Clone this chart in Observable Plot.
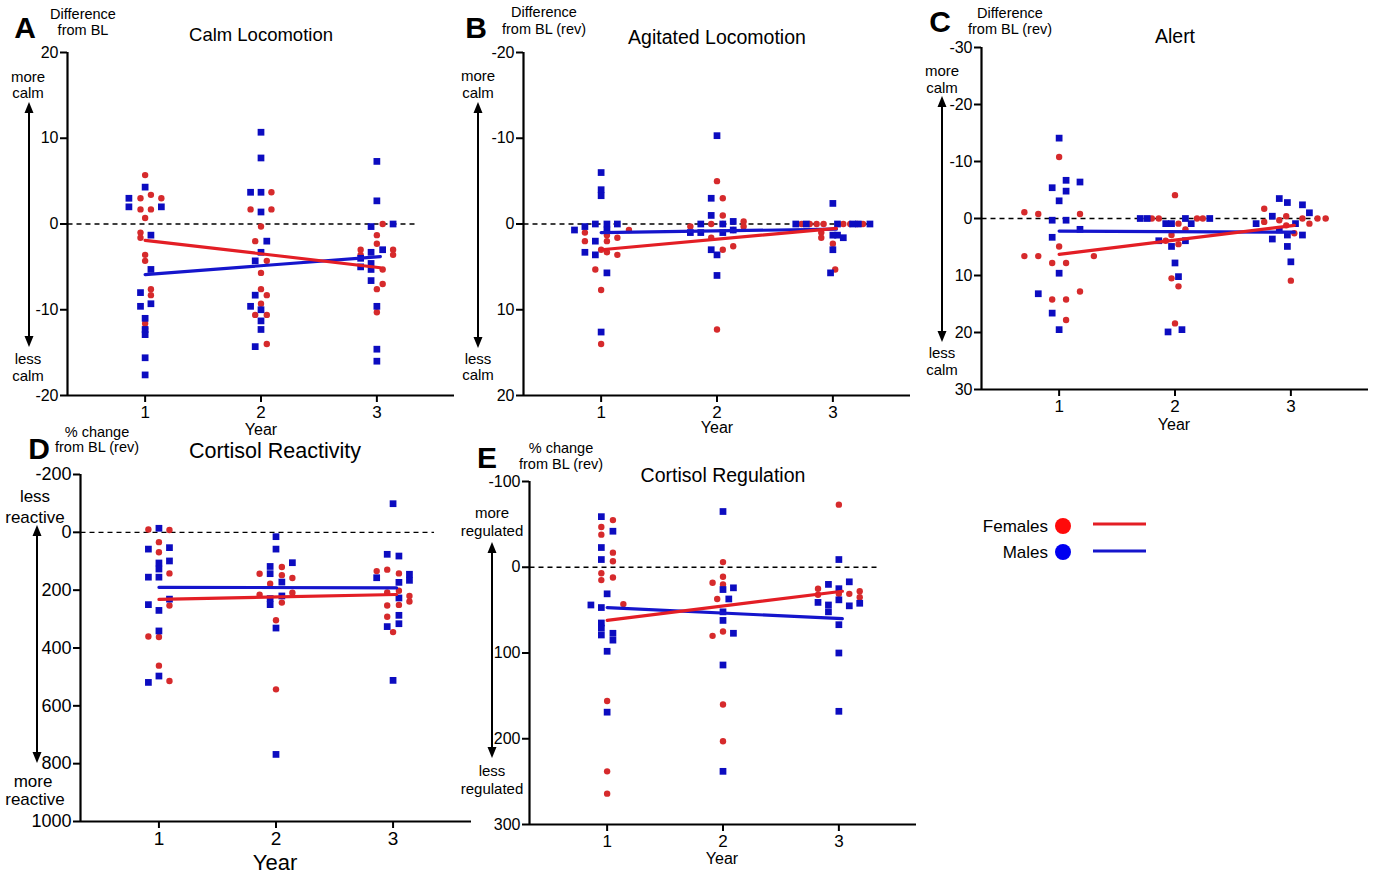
<!DOCTYPE html>
<html><head><meta charset="utf-8">
<script src="https://cdn.jsdelivr.net/npm/d3@7"></script>
<script src="https://cdn.jsdelivr.net/npm/@observablehq/plot@0.6"></script>
<style>
body{margin:0;background:#fff;}
#root{position:relative;width:1376px;height:880px;overflow:hidden;font-family:"Liberation Sans",Arial,Helvetica,sans-serif;color:#000;background:#fff;}
.t{position:absolute;transform:translate(-50%,-50%);white-space:nowrap;line-height:1;}
.tr{position:absolute;transform:translate(-100%,-50%);white-space:nowrap;line-height:1;}
.plot{position:absolute;}
</style></head><body><div id="root"></div>
<script>
// ---------- data ----------
const YEARS = [1, 2, 3];
const SEXES = ["Females", "Males"];

// A: Calm Locomotion (difference from BL)
const calmFemales = [[1.0,5.7],[0.96,3.0],[1.05,3.4],[1.14,3.0],[0.96,1.7],[1.05,1.7],[1.0,0.7],[0.96,-1.0],[0.96,-1.6],[1.0,-3.6],[1.0,-4.3],[1.05,-7.6],[1.05,-8.3],[1.0,-11.6],[1.0,-12.2],
 [2.09,3.7],[1.91,1.7],[2.09,1.7],[2.0,-0.3],[1.95,-2.0],[2.05,-4.3],[2.0,-5.7],[2.0,-7.6],[2.05,-8.3],[2.0,-9.3],[1.95,-10.6],[2.05,-10.6],[2.05,-14.0],
 [3.05,0],[3.0,-1.3],[3.0,-2.3],[2.86,-3.0],[2.86,-3.6],[3.14,-3.0],[3.14,-3.6],[3.05,-5.3],[3.05,-7.0],[3.0,-7.6],[3.0,-10.3]];
const calmMales = [[0.86,3.0],[0.86,2.0],[1.0,4.3],[1.14,2.0],[1.05,-1.3],[1.05,-5.3],[0.96,-8.0],[1.05,-9.3],[0.96,-9.6],[1.0,-11.0],[1.0,-12.3],[1.0,-12.9],[1.0,-15.6],[1.0,-17.6],
 [2.0,10.7],[2.0,7.7],[1.91,3.7],[2.0,3.7],[2.0,1.4],[2.05,-2.0],[2.0,-3.3],[1.95,-4.3],[1.95,-8.3],[1.91,-9.6],[2.0,-10.0],[2.0,-11.3],[2.0,-12.3],[1.95,-14.3],
 [3.0,7.3],[3.0,2.7],[2.95,-0.3],[3.14,0],[3.05,-3.0],[2.95,-3.3],[2.86,-4.0],[2.86,-5.0],[2.95,-4.6],[2.95,-5.3],[2.95,-6.6],[3.0,-9.6],[3.0,-14.6],[3.0,-16.0]];
const calmFitF = [-1.9, -5.1];
const calmFitM = [-5.9, -3.8];

// B: Agitated Locomotion (difference from BL, reversed)
const agitFemales = [[0.86,1.0],[0.86,2.0],[0.95,5.3],[1.0,7.7],[1.0,14.0],[1.05,1.3],[1.05,2.0],[1.05,3.3],[1.14,1.6],[1.14,3.6],[1.24,0.7],[1.0,3.0],
 [1.77,0.3],[1.95,0],[1.95,1.6],[2.0,-5.0],[2.05,-3.0],[2.05,-1.0],[2.05,0],[2.05,3.0],[2.14,0.7],[2.14,2.6],[2.23,-0.3],[2.23,0.3],[2.0,12.3],
 [2.73,0],[2.8,0],[2.86,0],[2.92,0],[2.9,1.0],[2.9,1.6],[3.0,2.3],[3.02,5.3],[3.09,0],[3.15,0],[3.21,0],[3.26,0]];
const agitMales = [[0.77,0.7],[0.86,0.3],[0.86,3.3],[0.95,0],[0.95,2.0],[0.95,3.6],[1.0,-6.0],[1.0,-4.0],[1.0,-3.3],[1.0,12.6],[1.05,0],[1.05,0.7],[1.05,5.7],[1.14,0],
 [1.77,1.0],[1.86,0],[1.86,1.0],[1.95,-3.0],[1.95,-1.0],[1.95,3.0],[2.0,-10.3],[2.0,3.6],[2.0,6.0],[2.05,0],[2.05,1.0],[2.14,-0.3],[2.14,0.7],
 [2.68,0],[2.77,0],[3.0,-2.4],[3.0,3.0],[2.98,5.7],[3.04,0],[3.04,1.3],[3.0,1.3],[3.09,1.6],[3.17,0],[3.22,0],[3.32,0]];
const agitFitF = [3.0, 0.5];
const agitFitM = [1.0, 0.6];

// C: Alert (difference from BL, reversed)
const alertFemales = [[0.7,-1.1],[0.82,-0.8],[0.7,6.6],[0.82,6.6],[0.94,7.8],[0.94,14.2],[1.0,-10.8],[1.0,4.9],[1.06,7.8],[1.06,14.2],[1.06,17.8],[1.18,-0.8],[1.18,12.8],[1.3,6.6],
 [1.8,0],[1.86,0],[1.92,3.9],[1.97,2.9],[2.0,-4.1],[2.03,0.9],[2.03,4.5],[2.09,1.9],[1.97,10.5],[2.03,11.9],[2.0,18.4],[2.19,0],[2.24,0],
 [2.77,-1.7],[2.77,0.6],[2.9,0.3],[2.96,-0.4],[2.96,1.2],[3.03,2.6],[3.0,10.9],[3.1,0],[3.16,0.9],[3.23,0],[3.3,0]];
const alertMales = [[1.0,-14.1],[0.94,-5.4],[1.0,-3.1],[1.06,-6.7],[1.06,-4.8],[1.18,-6.4],[0.94,0.3],[1.06,0.3],[1.18,1.9],[0.94,3.3],[1.0,9.6],[0.82,13.2],[0.94,16.6],[1.0,19.5],
 [1.7,0],[1.76,0],[1.92,0.9],[1.97,0.9],[1.86,3.9],[1.97,4.9],[2.0,7.8],[2.03,10.2],[2.09,0],[2.14,0.9],[2.09,3.9],[1.94,19.9],[2.06,19.5],[2.3,0],
 [2.7,0.9],[2.84,-0.4],[2.84,3.6],[2.9,-3.5],[2.9,2.0],[2.97,-2.8],[2.97,2.9],[2.97,4.9],[3.0,7.6],[3.04,0.9],[3.1,-2.4],[3.1,2.9],[3.16,-1.0]];
const alertFitF = [6.3, 1.2];
const alertFitM = [2.2, 2.4];

// D: Cortisol Reactivity (% change from BL, reversed)
const reactFemales = [[0.91,-10],[1.0,34],[1.0,69],[1.09,-8],[1.09,142],[1.09,253],[0.91,360],[1.0,362],[1.0,461],[1.09,514],
 [1.86,143],[1.86,216],[1.95,178],[2.05,120],[2.05,148],[2.05,243],[2.14,158],[2.14,209],[2.0,304],[2.0,543],
 [2.86,134],[2.95,129],[3.05,142],[2.95,208],[3.05,202],[3.14,220],[3.14,239],[2.95,253],[3.05,251],[2.95,292],[3.0,345]];
const reactMales = [[1.0,-14],[0.91,58],[0.91,155],[0.91,250],[1.0,106],[1.0,127],[1.0,155],[1.0,270],[1.0,341],[1.0,497],[0.91,519],[1.09,53],[1.09,99],[1.09,231],
 [2.0,15],[2.0,58],[1.95,118],[1.95,143],[2.05,172],[2.14,105],[1.95,229],[1.95,250],[2.05,220],[2.0,331],[2.0,768],
 [3.0,-99],[2.95,76],[3.05,82],[2.86,157],[3.05,173],[3.14,145],[3.14,166],[3.05,227],[3.05,287],[3.05,316],[2.95,326],[3.0,512]];
const reactFitF = [232, 215];
const reactFitM = [190, 192];

// E: Cortisol Regulation (% change from BL, reversed)
const regFemales = [[0.95,-47],[0.95,-38],[1.05,-55],[1.05,-17],[1.05,-7],[0.95,7],[0.95,15],[1.05,12],[1.14,43],[1.0,156],[1.0,238],[1.0,264],
 [2.0,-6],[2.0,11],[2.0,20],[1.91,18],[1.95,37],[1.91,80],[2.0,75],[2.0,160],[2.0,203],
 [3.0,-73],[2.82,25],[2.82,32],[3.0,31],[3.09,31],[3.18,28],[3.18,35]];
const regMales = [[0.95,-59],[0.95,-23],[0.95,-9],[1.05,-42],[1.0,31],[0.86,44],[0.95,47],[0.95,65],[0.95,71],[0.95,79],[1.05,77],[1.05,85],[1.0,98],[1.0,169],
 [2.0,-65],[2.0,26],[2.09,24],[2.05,37],[2.0,52],[2.0,62],[2.09,77],[2.0,114],[2.0,238],
 [3.0,-9],[2.91,20],[3.09,17],[3.0,25],[3.0,38],[2.82,41],[2.91,44],[3.09,45],[3.18,42],[2.91,52],[3.0,67],[3.0,100],[3.0,168]];
const regFitF = [62, 28];
const regFitM = [47, 60];

const FIT_X = [1, 3.03];
const ticksA = [-20, -10, 0, 10, 20];
const ticksC = [-30, -20, -10, 0, 10, 20, 30];
const ticksD = [-200, 0, 200, 400, 600, 800, 1000];
const ticksE = [-100, 0, 100, 200, 300];

// ---------- styles ----------
const FONT = '"Liberation Sans", Arial, Helvetica, sans-serif';
const RED_DOT = "#d62a2c", BLUE_DOT = "#0c0cc0";
const RED_LINE = "#e31e25", BLUE_LINE = "#1515cc";
const X_DOMAIN = [0.33, 3.67];
const root = document.getElementById("root");

function panel(p) {
  const ml = 60, mr = 12, mt = 14, mb = 44;
  const w = (p.x1 - p.x0) + ml + mr, h = (p.y1 - p.y0) + mt + mb;
  const yBottom = p.reverse ? p.yDomain[1] : p.yDomain[0];
  const toObj = arr => arr.map(([x, y]) => ({x, y}));
  const fitData = (vals) => FIT_X.map((x, i) => ({x, y: vals[i]}));
  const svg = Plot.plot({
    width: w, height: h, marginLeft: ml, marginRight: mr, marginTop: mt, marginBottom: mb,
    style: {fontFamily: FONT, background: "transparent", color: "#000", overflow: "visible"},
    x: {domain: X_DOMAIN, label: null},
    y: {domain: p.yDomain, reverse: p.reverse, label: null},
    marks: [
      Plot.axisX({ticks: YEARS, tickSize: 7, tickPadding: 3, strokeWidth: 2, fontSize: p.xfs, label: null, tickFormat: d => String(d)}),
      Plot.axisY({ticks: p.yTicks, tickSize: 7, tickPadding: 2, strokeWidth: 2, fontSize: p.yfs, label: null, tickFormat: d => String(d)}),
      Plot.ruleX([X_DOMAIN[0]], {strokeWidth: 2.2}),
      Plot.ruleY([yBottom], {strokeWidth: 2.2}),
      Plot.link([{a: X_DOMAIN[0], b: 3.35, y: 0}], {x1: "a", x2: "b", y1: "y", y2: "y", stroke: "#000", strokeWidth: 1.3, strokeDasharray: "5,4"}),
      Plot.dot(toObj(p.F), {x: "x", y: "y", symbol: "circle", r: 3.2, fill: RED_DOT}),
      Plot.dot(toObj(p.M), {x: "x", y: "y", symbol: "square", r: 3.8, fill: BLUE_DOT}),
      Plot.line(fitData(p.fitM), {x: "x", y: "y", stroke: BLUE_LINE, strokeWidth: 3.2}),
      Plot.line(fitData(p.fitF), {x: "x", y: "y", stroke: RED_LINE, strokeWidth: 3.2})
    ]
  });
  svg.classList.add("plot");
  svg.style.left = (p.x0 - ml) + "px";
  svg.style.top = (p.y0 - mt) + "px";
  root.appendChild(svg);
}

panel({F: calmFemales, M: calmMales, fitF: calmFitF, fitM: calmFitM, yDomain: [-20, 20], reverse: false, yTicks: ticksA,
  x0: 67, x1: 454, y0: 52, y1: 395, xfs: 17, yfs: 16});
panel({F: agitFemales, M: agitMales, fitF: agitFitF, fitM: agitFitM, yDomain: [-20, 20], reverse: true, yTicks: ticksA,
  x0: 523, x1: 910, y0: 52, y1: 395, xfs: 17, yfs: 16});
panel({F: alertFemales, M: alertMales, fitF: alertFitF, fitM: alertFitM, yDomain: [-30, 30], reverse: true, yTicks: ticksC,
  x0: 981, x1: 1368, y0: 47, y1: 389, xfs: 17, yfs: 16});
panel({F: reactFemales, M: reactMales, fitF: reactFitF, fitM: reactFitM, yDomain: [-200, 1000], reverse: true, yTicks: ticksD,
  x0: 80, x1: 471, y0: 474, y1: 821, xfs: 19, yfs: 18});
panel({F: regFemales, M: regMales, fitF: regFitF, fitM: regFitM, yDomain: [-100, 300], reverse: true, yTicks: ticksE,
  x0: 529, x1: 916, y0: 481, y1: 824, xfs: 17, yfs: 16});

// ---------- annotations ----------
function txt(s, x, y, size, opts = {}) {
  const d = document.createElement("div");
  d.className = opts.right ? "tr" : "t";
  d.textContent = s;
  d.style.left = x + "px"; d.style.top = y + "px";
  d.style.fontSize = size + "px";
  if (opts.bold) d.style.fontWeight = "bold";
  root.appendChild(d);
}
// panel letters
txt("A", 25, 28, 30, {bold: true});
txt("B", 476, 28, 30, {bold: true});
txt("C", 940, 22, 30, {bold: true});
txt("D", 39, 449, 30, {bold: true});
txt("E", 487, 458, 30, {bold: true});
// y-axis captions
txt("Difference", 83, 14, 14.5); txt("from BL", 83, 30, 14.5);
txt("Difference", 544, 12, 14.5); txt("from BL (rev)", 544, 29, 14.5);
txt("Difference", 1010, 13, 14.5); txt("from BL (rev)", 1010, 29, 14.5);
txt("% change", 97, 432, 14.5); txt("from BL (rev)", 97, 447, 14.5);
txt("% change", 561, 448, 14.5); txt("from BL (rev)", 561, 464, 14.5);
// titles
txt("Calm Locomotion", 261, 35, 18.5);
txt("Agitated Locomotion", 717, 38, 19.5);
txt("Alert", 1175, 37, 19.5);
txt("Cortisol Reactivity", 275, 452, 21.5);
txt("Cortisol Regulation", 723, 476, 19.5);
// x labels
txt("Year", 261, 430, 16);
txt("Year", 717, 428, 16);
txt("Year", 1174, 425, 16);
txt("Year", 275, 863, 22);
txt("Year", 722, 859, 16);
// direction labels
txt("more", 28, 76, 15); txt("calm", 28, 92, 15); txt("less", 28, 358, 15); txt("calm", 28, 375, 15);
txt("more", 478, 75, 15); txt("calm", 478, 92, 15); txt("less", 478, 358, 15); txt("calm", 478, 374, 15);
txt("more", 942, 70, 15); txt("calm", 942, 87, 15); txt("less", 942, 352, 15); txt("calm", 942, 369, 15);
txt("less", 35, 496, 17); txt("reactive", 35, 517, 17); txt("more", 33, 781, 17); txt("reactive", 35, 799, 17);
txt("more", 492, 512, 15); txt("regulated", 492, 530, 15); txt("less", 492, 770, 15); txt("regulated", 492, 788, 15);

// arrows + legend glyphs
const NS = "http://www.w3.org/2000/svg";
const ov = document.createElementNS(NS, "svg");
ov.setAttribute("width", 1376); ov.setAttribute("height", 880);
ov.style.position = "absolute"; ov.style.left = "0"; ov.style.top = "0"; ov.style.pointerEvents = "none";
root.appendChild(ov);
function el(tag, attrs) { const e = document.createElementNS(NS, tag); for (const k in attrs) e.setAttribute(k, attrs[k]); ov.appendChild(e); return e; }
function arrow(x, y1, y2) {
  el("line", {x1: x, x2: x, y1: y1 + 8, y2: y2 - 8, stroke: "#000", "stroke-width": 2});
  el("path", {d: `M${x},${y1} L${x - 4.5},${y1 + 11} L${x + 4.5},${y1 + 11} Z`, fill: "#000"});
  el("path", {d: `M${x},${y2} L${x - 4.5},${y2 - 11} L${x + 4.5},${y2 - 11} Z`, fill: "#000"});
}
arrow(29, 102, 347);
arrow(478, 102, 348);
arrow(942, 96, 342);
arrow(37, 525, 763);
arrow(492, 542, 758);

// legend
txt(SEXES[0], 1048, 526, 17, {right: true});
txt(SEXES[1], 1048, 552, 17, {right: true});
el("circle", {cx: 1063, cy: 526, r: 8, fill: "#ff0a0a"});
el("circle", {cx: 1063, cy: 552, r: 8, fill: "#0000f0"});
el("line", {x1: 1093, x2: 1146, y1: 524, y2: 524, stroke: RED_LINE, "stroke-width": 3});
el("line", {x1: 1093, x2: 1146, y1: 551, y2: 551, stroke: BLUE_LINE, "stroke-width": 3});
</script></body></html>
